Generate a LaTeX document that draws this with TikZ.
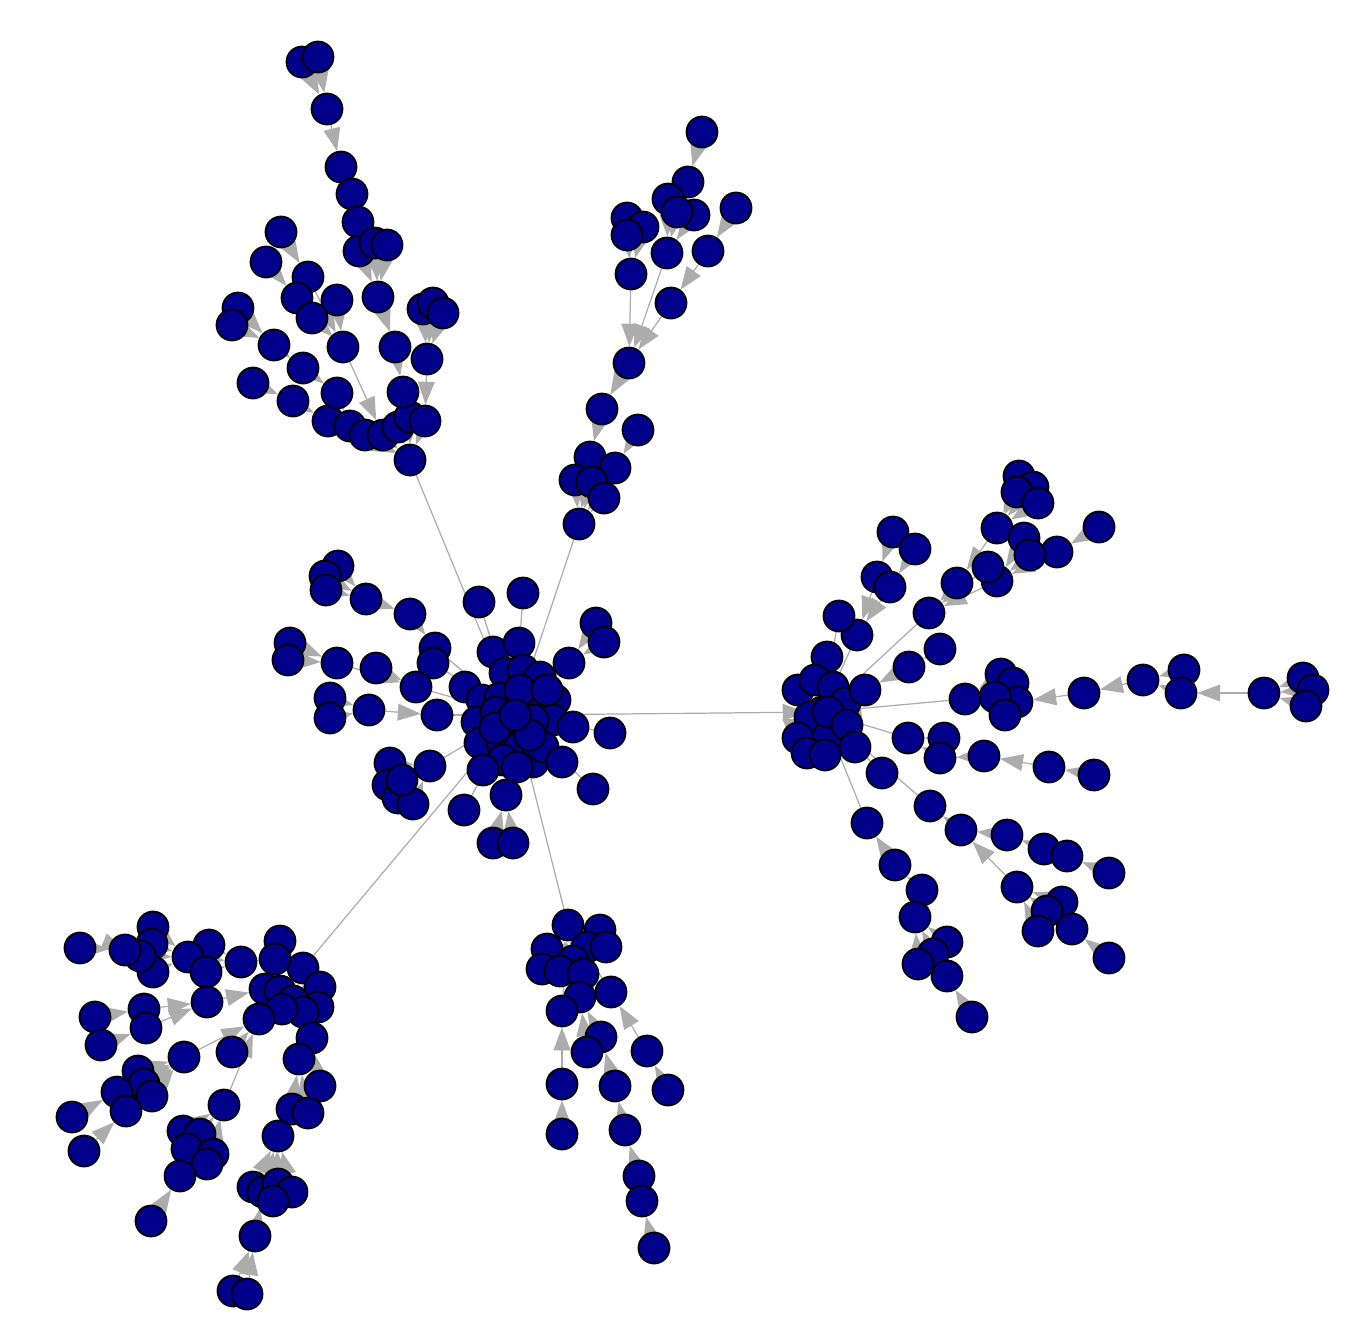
\documentclass[tikz,border=0pt]{standalone}
\usepackage{tikz}
\usetikzlibrary{arrows.meta}
\definecolor{navy}{RGB}{0,0,139}
\definecolor{linkgray}{RGB}{172,172,172}
\pgfdeclarelayer{bg}
\pgfsetlayers{bg,main}

% name/x/y/parent, pixel units, y downwards
\def\netdata{c1/493/652/c0,c2/519/643/c0,c3/505/673/c0,c4/523/670/c0,c5/540/677/c0,
c6/465/687/c0,c7/482/700/c0,c8/500/698/c0,c9/555/700/c0,c10/533/702/c0,c11/477/722/c0,
c12/496/712/c0,c13/513/718/c0,c14/553/720/c0,c15/573/727/c0,c16/480/743/c0,c17/502/743/c0,
c18/520/747/c0,c19/533/762/c0,c20/543/747/c0,c21/503/760/c0,c22/483/770/c0,c23/562/762/c0,
c24/517/767/c0,c25/520/690/c0,c26/533/720/c0,c27/547/690/c0,c28/530/735/c0,c29/495/728/c0,
c0/515/715/r0,
c30/479/602/c0,c31/523/593/c0,c32/569/663/c0,c33/596/623/c32,c34/604/642/c32,c35/610/733/c0,
c36/593/789/c0,c37/506/795/c0,c38/493/843/c37,c39/513/843/c37,c40/464/810/c0,
c41/338/566/c44,c42/325/576/c44,c43/326/590/c44,c44/366/599/c45,c45/410/614/c46,c46/435/648/c0,
c47/433/663/c0,c48/290/643/c50,c49/288/660/c50,c50/337/663/c52,c51/376/668/c52,c52/416/687/c0,
c53/330/698/c55,c54/330/718/c55,c55/369/710/c56,c56/437/715/c0,
c57/390/763/c62,c58/388/785/c62,c59/398/798/c62,c60/413/804/c62,c61/402/780/c62,c62/430/766/c0,
t0/410/460/c0,t1/328/421/t0,t2/350/426/t0,t3/365/435/t0,t4/383/435/t0,t5/398/427/t0,
t6/410/417/t0,t7/425/421/t0,
t8/302/62/t10,t9/318/57/t10,t10/327/109/t11,t11/341/167/t12,t12/352/194/t13,t13/358/222/t14,
t14/359/251/t17,t15/375/243/t17,t16/387/245/t17,t17/378/297/t18,t18/395/347/t19,t19/403/392/t5,
t20/281/232/t22,t21/266/262/t23,t22/308/277/t26,t23/297/298/t26,t24/337/300/t26,t25/312/318/t26,
t26/343/347/t4,t27/238/308/t29,t28/232/325/t29,t29/274/345/t30,t30/303/368/t31,t31/337/393/t2,
t32/253/383/t33,t33/293/401/t1,t34/423/309/t37,t35/433/303/t37,t36/443/313/t37,t37/427/359/t7,
u0/579/524/c0,u1/590/457/u0,u2/615/468/u0,u3/575/480/u0,u4/592/482/u0,u5/604/498/u0,
u6/602/409/u1,u7/638/430/u2,u8/629/363/u6,u9/627/218/u12,u10/643/227/u12,u11/627/235/u12,
u12/631/274/u8,u13/667/253/u8,u14/671/303/u8,u15/708/251/u14,u16/736/208/u15,
u17/702/132/u18,u18/688/182/u19,u19/668/199/u13,u20/694/215/u13,u21/677/212/u13,
r1/827/657/r0,r2/798/690/r0,r3/815/680/r0,r4/833/687/r0,r5/845/703/r0,r6/810/717/r0,
r7/798/738/r0,r8/828/737/r0,r9/828/712/r0,r10/847/725/r0,r11/855/747/r0,r12/807/753/r0,
r13/825/755/r0,
r15/893/532/r16,r16/877/577/r18,r17/890/587/r18,r18/857/635/r0,r19/839/616/r0,
r20/1019/476/r24,r21/1033/487/r24,r22/1017/492/r24,r23/1038/503/r24,r24/997/528/r25,
r25/957/583/r26,r26/929/613/r0,r27/1099/527/r28,r28/1057/552/r31,r29/1024/538/r31,
r30/1030/555/r31,r31/997/581/r26,r32/988/567/r26,r33/915/549/r17,
r34/940/649/r35,r35/909/667/r36,r36/865/690/r0,
r37/1303/678/r40,r38/1313/690/r40,r39/1306/706/r40,r40/1264/693/r42,r41/1184/670/r43,
r42/1181/693/r43,r43/1143/680/r44,r44/1084/693/r47,
r45/1001/674/r50,r46/1013/683/r50,r47/1017/702/r50,r48/995/697/r50,r49/1005/715/r50,r50/965/699/r0,
r51/908/738/r0,r52/944/738/r51,r53/940/758/r51,r54/1094/775/r55,r55/1049/767/r56,r56/984/756/r53,
r57/930/806/r0,r58/961/830/r57,r59/1007/835/r58,r60/1044/849/r59,r61/1067/856/r59,r62/1109/873/r61,
r63/1017/887/r58,r64/1062/902/r63,r65/1047/911/r63,r66/1038/931/r63,r67/1072/929/r63,r68/1109/958/r67,
r69/882/773/r0,r70/867/823/r0,r71/895/865/r70,r72/922/890/r71,r73/915/917/r72,r74/947/942/r73,
r75/933/954/r73,r76/918/964/r73,r77/947/976/r73,r78/972/1017/r77,
l0/303/968/c0,l1/280/941/l0,l2/275/959/l0,l3/320/987/l0,l4/318/1007/l0,l5/265/989/l0,
l6/280/991/l0,l7/293/1001/l0,l8/303/1012/l0,l9/282/1009/l0,
l10/241/962/l2,l11/209/945/l10,l12/188/957/l10,l13/206/972/l10,l14/153/927/l12,l15/152/944/l12,
l16/153/972/l12,l17/140/956/l12,l18/125/950/l17,l19/80/948/l18,
l20/207/1002/l5,l21/144/1009/l20,l22/146/1028/l20,l23/95/1017/l21,l24/101/1045/l22,
l25/259/1019/l5,l26/184/1057/l25,l27/138/1071/l26,l28/144/1084/l26,l29/152/1096/l26,
l30/117/1092/l26,l31/126/1111/l26,l32/72/1117/l30,l33/84/1151/l31,l34/232/1052/l25,
l35/224/1105/l25,l36/183/1131/l35,l37/200/1134/l35,l38/187/1149/l35,l39/213/1154/l35,
l40/207/1164/l35,l41/180/1176/l38,l42/151/1221/l41,
l43/312/1038/l4,l44/299/1059/l43,l45/320/1086/l43,l46/292/1109/l44,l47/308/1113/l44,l48/278/1136/l46,
l49/253/1187/l48,l50/263/1192/l48,l51/278/1184/l48,l52/292/1192/l48,l53/273/1201/l48,
l54/255/1236/l50,l55/233/1291/l54,l56/247/1294/l54,
b0/568/925/c0,b1/600/930/b0,b2/547/949/b0,b3/587/947/b0,b4/606/947/b0,b5/573/961/b0,
b6/542/969/b0,b7/560/971/b0,b8/583/974/b0,b9/580/997/b0,b10/562/1011/b0,b11/611/992/b0,
b12/562/1084/b10,b13/562/1134/b12,b14/601/1037/b9,b15/587/1052/b9,b16/615/1086/b14,
b17/625/1130/b16,b18/639/1176/b17,b19/642/1201/b18,b20/654/1248/b19,
b21/647/1051/b11,b22/668/1090/b21}

\begin{document}
\begin{tikzpicture}[x=0.01cm, y=-0.01cm,
  vert/.style={circle, draw=black, fill=navy, line width=0.5pt, inner sep=0pt, minimum size=0.31cm},
  link/.style={draw=linkgray, line width=0.35pt, -{Triangle[length=6.5pt,width=4.8pt]}}
  ]
  \useasboundingbox (0,0) rectangle (1350,1344);

  \node[vert] (r0) at (822,712) {};
  \foreach \n/\x/\y/\p in \netdata {
    \node[vert] (\n) at (\x,\y) {};
  }

  \begin{pgfonlayer}{bg}
    \foreach \n/\x/\y/\p in \netdata {
      \draw[link] (\n) -- (\p);
    }
  \end{pgfonlayer}

\end{tikzpicture}
\end{document}
